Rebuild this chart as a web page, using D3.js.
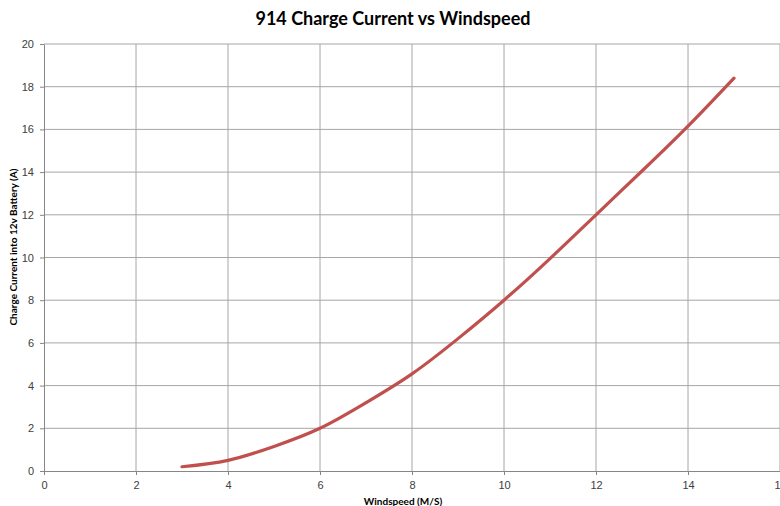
<!DOCTYPE html>
<html>
<head>
<meta charset="utf-8">
<script src="https://cdn.jsdelivr.net/npm/d3@7"></script>
<style>
  body { margin: 0; background: #fff; }
  svg { display: block; font-family: Lato, "Open Sans", sans-serif; }
</style>
</head>
<body>
<div id="chart"></div>
<script>
// windspeed (m/s) vs charge current (A)
var windspeed = [3, 4, 5, 6, 7, 8, 9, 10, 11, 12, 13, 14, 15];
var current = [0.2, 0.5, 1.15, 2.0, 3.2, 4.55, 6.2, 8.0, 9.95, 12.0, 14.05, 16.15, 18.4];
var xTicks = [0, 2, 4, 6, 8, 10, 12, 14, 16];
var yTicks = [0, 2, 4, 6, 8, 10, 12, 14, 16, 18, 20];

var width = 780,
    height = 506,
    margin = { top: 44, right: 0, bottom: 35, left: 44 };

var svg = d3.select("#chart")
    .append("svg")
    .attr("width", width)
    .attr("height", height);

var x = d3.scaleLinear()
    .domain([0, 16])
    .range([margin.left, margin.left + 16 * 46]);

var y = d3.scaleLinear()
    .domain([0, 20])
    .range([height - margin.bottom, margin.top]);

// gridlines
svg.append("g")
    .selectAll("line")
    .data(xTicks.slice(1))
    .enter()
    .append("line")
    .attr("x1", function (d) { return x(d); })
    .attr("x2", function (d) { return x(d); })
    .attr("y1", y(0))
    .attr("y2", y(20))
    .attr("stroke", "#a6a6a6")
    .attr("stroke-width", 1);

svg.append("g")
    .selectAll("line")
    .data(yTicks.slice(1))
    .enter()
    .append("line")
    .attr("x1", x(0))
    .attr("x2", x(16))
    .attr("y1", function (d) { return y(d); })
    .attr("y2", function (d) { return y(d); })
    .attr("stroke", "#a6a6a6")
    .attr("stroke-width", 1);

// axes
var xAxis = svg.append("g")
    .attr("transform", "translate(0," + y(0) + ")")
    .call(d3.axisBottom(x).tickValues(xTicks).tickSize(4).tickSizeOuter(0).tickPadding(6));

var yAxis = svg.append("g")
    .attr("transform", "translate(" + x(0) + ",0)")
    .call(d3.axisLeft(y).tickValues(yTicks).tickSize(4).tickSizeOuter(0).tickPadding(6));

[xAxis, yAxis].forEach(function (a) {
    a.select(".domain").attr("stroke", "#868686");
    a.selectAll(".tick line").attr("stroke", "#868686");
    a.selectAll("text")
        .style("font-size", "11px")
        .attr("fill", "#404040");
});

// the curve
var line = d3.line()
    .x(function (d, i) { return x(windspeed[i]); })
    .y(function (d) { return y(d); })
    .curve(d3.curveNatural);

svg.append("path")
    .datum(current)
    .attr("d", line)
    .attr("fill", "none")
    .attr("stroke", "#c0504d")
    .attr("stroke-width", 3.2)
    .attr("stroke-linecap", "round");

// titles
svg.append("text")
    .attr("x", 393)
    .attr("y", 25)
    .attr("text-anchor", "middle")
    .style("font-size", "18px")
    .style("font-weight", "bold")
    .text("914 Charge Current vs Windspeed");

svg.append("text")
    .attr("x", 403)
    .attr("y", 505)
    .attr("text-anchor", "middle")
    .style("font-size", "10px")
    .style("font-weight", "bold")
    .text("Windspeed (M/S)");

svg.append("text")
    .attr("transform", "translate(17,247)rotate(-90)")
    .attr("text-anchor", "middle")
    .style("font-size", "10px")
    .style("font-weight", "bold")
    .text("Charge Current into 12v Battery (A)");
</script>
</body>
</html>
